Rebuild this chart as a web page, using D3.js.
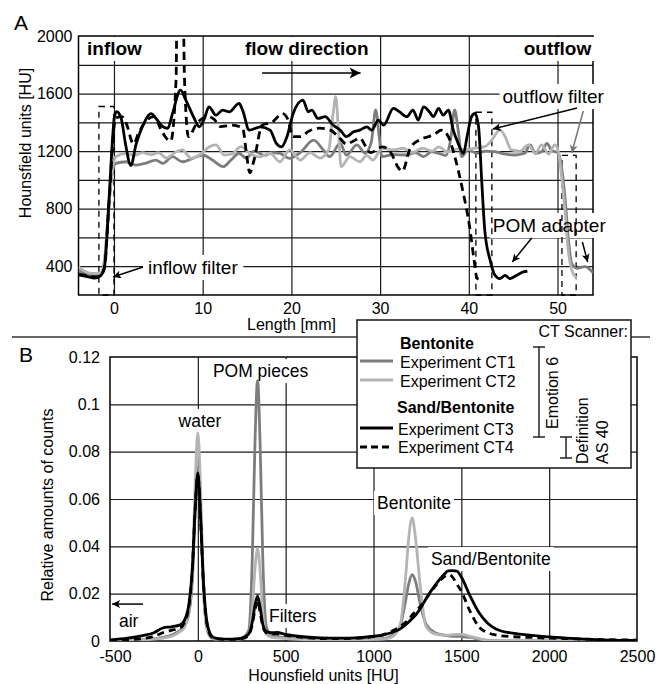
<!DOCTYPE html>
<html><head><meta charset="utf-8">
<script src="https://cdn.jsdelivr.net/npm/d3@7"></script>
<style>
body{margin:0;background:#fff;}
svg{display:block;font-family:"Liberation Sans",Arial,sans-serif;}
</style></head><body>
<svg id="c" width="656" height="684"></svg>
<script>
// ---------------- DATA ----------------
// Panel A: profiles along sample length [mm, HU]
const ct1A = [[-4,370],[-3,345],[-2,335],[-1.4,350],[-1,480],[-0.6,820],[-0.2,1050],[0.2,1115],[1.35,1126],[2.5,1103],[3.6,1117],[4.7,1138],[5.5,1115],[6.6,1161],[7.7,1126],[8.9,1150],[10.0,1173],[11.1,1138],[12.3,1092],[13.2,1138],[14.1,1185],[14.9,1150],[15.8,1200],[17.0,1170],[17.8,1190],[18.7,1185],[19.8,1150],[21.0,1190],[22.5,1277],[23.6,1208],[24.3,1161],[25.5,1254],[26.2,1173],[27.4,1243],[28.3,1185],[29.0,1260],[29.5,1486],[29.9,1300],[30.2,1161],[31.5,1175],[33.0,1173],[34.0,1190],[34.9,1161],[35.8,1195],[36.6,1185],[37.4,1170],[38.0,1300],[38.4,1486],[38.8,1347],[39.2,1161],[39.9,1208],[40.9,1185],[41.9,1200],[42.95,1196],[44.0,1180],[45.2,1173],[46.3,1185],[46.9,1243],[47.5,1185],[48.2,1195],[48.8,1254],[49.3,1208],[50.1,1185],[50.5,1069],[50.9,837],[51.2,605],[51.6,420],[52.2,386],[53.1,397],[54,355]];
const ct2A = [[-4,395],[-3.3,365],[-2.5,350],[-1.6,350],[-1.1,420],[-0.7,700],[-0.3,1000],[0.2,1161],[1.35,1185],[2.3,1170],[3.2,1190],[4.2,1175],[5.0,1190],[5.9,1152],[7.0,1196],[7.7,1208],[8.7,1150],[9.8,1180],[10.75,1231],[11.5,1243],[12.4,1173],[13.3,1180],[14.3,1231],[15.3,1185],[16.4,1160],[17.6,1185],[18.7,1126],[19.8,1208],[21.0,1138],[22.1,1190],[23.2,1152],[24.2,1208],[24.7,1463],[25.0,1578],[25.3,1347],[25.6,1092],[26.6,1161],[27.7,1126],[28.5,1170],[29.2,1138],[30.2,1220],[31.5,1208],[32.6,1220],[33.6,1190],[34.8,1220],[35.9,1200],[36.6,1230],[37.6,1195],[38.8,1215],[39.6,1208],[40.7,1220],[41.8,1231],[42.6,1277],[43.5,1347],[44.1,1300],[44.8,1208],[45.8,1200],[46.7,1243],[47.5,1185],[48.2,1243],[49.0,1180],[49.7,1243],[50.1,1196],[50.5,999],[50.9,744],[51.2,513],[51.6,374],[52.0,327],[52.2,320]];
const ct3A = [[-4,340],[-3,328],[-2.2,318],[-1.6,330],[-1.1,380],[-0.8,600],[-0.5,930],[-0.2,1250],[0.05,1440],[0.3,1475],[0.8,1430],[1.3,1250],[1.9,1100],[2.5,1250],[3.2,1370],[4.2,1460],[4.7,1430],[5.5,1370],[6.05,1358],[6.6,1462],[7.5,1624],[8.1,1555],[9.05,1427],[9.6,1369],[10.2,1427],[10.7,1508],[11.5,1450],[12.25,1485],[13.0,1473],[14.1,1532],[14.5,1485],[15.25,1346],[16.5,1369],[17.6,1346],[18.3,1254],[18.9,1230],[19.5,1300],[20.2,1462],[21.3,1555],[21.9,1473],[22.3,1485],[23.0,1427],[23.8,1439],[24.7,1381],[25.5,1346],[26.2,1300],[27.0,1334],[27.7,1346],[28.5,1369],[29.05,1346],[29.8,1416],[30.4,1381],[31.5,1497],[32.2,1473],[33.0,1439],[33.7,1485],[34.3,1416],[34.9,1508],[35.6,1470],[36.0,1439],[36.6,1497],[37.1,1450],[37.7,1485],[38.25,1346],[38.8,1254],[39.4,1184],[39.8,1300],[40.3,1439],[40.7,1462],[41.1,1369],[41.45,998],[41.8,650],[42.4,442],[42.95,337],[43.5,314],[44.1,337],[44.6,314],[45.4,337],[46.1,360],[46.6,365]];
const ct4A = [[-4,345],[-3,335],[-2,325],[-1.5,335],[-1.0,420],[-0.7,700],[-0.4,1000],[-0.1,1300],[0.2,1430],[0.9,1440],[1.4,1390],[2.2,1250],[2.8,1330],[3.5,1400],[4.5,1440],[5.3,1350],[5.9,1290],[6.4,1270],[7.0,1700],[7.1,2150],[7.8,2150],[7.95,1700],[8.4,1300],[9.3,1390],[10.6,1440],[11.3,1420],[12.0,1370],[13.3,1380],[14.5,1360],[15.0,1150],[15.3,1050],[15.8,1140],[16.7,1380],[17.8,1400],[19.0,1460],[19.6,1420],[20.2,1300],[21.0,1300],[22.0,1340],[23.2,1360],[24.4,1346],[25.3,1300],[26.2,1250],[27.0,1270],[27.7,1290],[28.9,1190],[30.3,1230],[31.3,1180],[32.0,1090],[32.5,1060],[33.4,1220],[34.5,1280],[35.4,1300],[36.2,1320],[36.9,1346],[37.7,1300],[38.4,1165],[39.3,930],[40.1,670],[40.6,440],[40.9,320],[41.1,310]];

// Panel B: histograms, shared HU categories
const hu = [-500,-400,-300,-250,-200,-150,-100,-75,-50,-30,-15,0,15,30,50,75,100,150,200,250,290,310,325,340,355,370,390,420,450,500,600,700,800,900,1000,1050,1100,1150,1185,1200,1220,1240,1265,1300,1350,1400,1425,1450,1475,1500,1550,1600,1650,1700,1800,1900,2000,2100,2200,2300,2400,2500];
const ct1B = [0.0002,0.0004,0.0007,0.001,0.0015,0.0025,0.0045,0.0065,0.012,0.027,0.056,0.073,0.055,0.025,0.006,0.0015,0.0009,0.0007,0.0007,0.0012,0.0045,0.035,0.083,0.110,0.082,0.034,0.006,0.0022,0.0018,0.0013,0.0008,0.0005,0.0005,0.0006,0.0008,0.001,0.002,0.006,0.018,0.024,0.028,0.025,0.016,0.007,0.0035,0.0025,0.0022,0.002,0.002,0.0019,0.0015,0.0008,0.0003,0.0001,0,0,0,0,0,0,0,0];
const ct2B = [0.0001,0.0002,0.0005,0.0008,0.0012,0.002,0.004,0.006,0.013,0.032,0.067,0.088,0.066,0.029,0.006,0.0013,0.0008,0.0006,0.0006,0.001,0.003,0.013,0.030,0.039,0.029,0.012,0.003,0.0015,0.0013,0.001,0.0006,0.0004,0.0004,0.0005,0.0007,0.0008,0.0015,0.006,0.029,0.043,0.052,0.043,0.024,0.006,0.003,0.0025,0.0025,0.0027,0.0028,0.0028,0.002,0.001,0.0003,0.0001,0,0,0,0,0,0,0,0];
const ct3B = [0.0005,0.0012,0.0025,0.0035,0.0055,0.006,0.0068,0.009,0.016,0.032,0.056,0.071,0.054,0.028,0.009,0.0025,0.0012,0.0008,0.0008,0.0012,0.003,0.008,0.015,0.019,0.014,0.007,0.004,0.0035,0.0036,0.0028,0.0018,0.0013,0.0012,0.0013,0.002,0.0025,0.0035,0.005,0.007,0.008,0.0095,0.011,0.0135,0.018,0.0235,0.028,0.0296,0.0297,0.0295,0.027,0.019,0.012,0.0075,0.005,0.0032,0.0024,0.0017,0.0012,0.0008,0.0005,0.0003,0.0002];
const ct4B = [0.0002,0.0005,0.0012,0.002,0.0035,0.0045,0.0055,0.008,0.015,0.032,0.056,0.070,0.053,0.027,0.008,0.002,0.001,0.0007,0.0007,0.001,0.0025,0.007,0.013,0.017,0.012,0.006,0.0035,0.003,0.003,0.0024,0.0015,0.001,0.001,0.0012,0.0018,0.0025,0.004,0.006,0.008,0.009,0.011,0.0125,0.0145,0.018,0.023,0.027,0.028,0.027,0.024,0.021,0.0125,0.006,0.0035,0.0025,0.0018,0.0015,0.0012,0.001,0.0008,0.0006,0.0005,0.0004];

const seriesNames = ["Experiment CT1","Experiment CT2","Experiment CT3","Experiment CT4"];
const groupNames = ["Bentonite","Sand/Bentonite"];

const xGridA=[0,10,20,30,40,50];
const xTicksA=[0,10,20,30,40,50];
const yGridA=[400,600,800,1000,1200,1400,1600,1800];
const yTicksA=[400,800,1200,1600,2000];
const xTicksB=[-500,0,500,1000,1500,2000,2500];
const xGridB=[0,500,1000,1500,2000];
const yTicksB=[0,0.02,0.04,0.06,0.08,0.1,0.12];
const yTickLabelsB=["0","0.02","0.04","0.06","0.08","0.1","0.12"];
const yGridB=[0.02,0.04,0.06,0.08,0.1];

// ---------------- STYLE / LAYOUT ----------------
const styles = [
  {color:"#7d7d7d", dash:null},
  {color:"#b4b4b4", dash:null},
  {color:"#000", dash:null},
  {color:"#000", dash:"8,5"}
];
const LW = 2.8;
const GRID = "#1a1a1a";
const plain = d => String(d);

const svg = d3.select("#c");
const defs = svg.append("defs");

const A = {x0:78.5, x1:593, y0:36, y1:295};
const B = {x0:110, x1:637, y0:357, y1:641};
const xA = d3.scaleLinear().domain([-4,54]).range([A.x0,A.x1]);
const yA = d3.scaleLinear().domain([200,2000]).range([A.y1,A.y0]);
const xB = d3.scaleLinear().domain([-500,2500]).range([B.x0,B.x1]);
const yB = d3.scaleLinear().domain([0,0.12]).range([B.y1,B.y0]);

function clip(id,P){defs.append("clipPath").attr("id",id).append("rect")
  .attr("x",P.x0).attr("y",P.y0).attr("width",P.x1-P.x0).attr("height",P.y1-P.y0);}
clip("clipA",A); clip("clipB",B);

function marker(id,color,len,wid){
  defs.append("marker").attr("id",id).attr("viewBox","0 0 10 10").attr("refX",10).attr("refY",5)
   .attr("markerWidth",len).attr("markerHeight",wid).attr("markerUnits","userSpaceOnUse").attr("orient","auto")
   .append("path").attr("d","M0,0 L10,5 L0,10 L2.5,5 z").attr("fill",color);
}
marker("ah","#000",11,8); marker("ahg","#777",11,8); marker("ahBig","#000",15,11);

function drawGrid(g,P,xs,ys,xS,yS){
  g.append("g").attr("transform",`translate(0,${P.y1})`)
    .call(d3.axisBottom(xS).tickValues(xs).tickSize(-(P.y1-P.y0)).tickFormat(""))
    .call(a=>a.select(".domain").remove())
    .selectAll("line").attr("stroke",GRID).attr("stroke-width",1.2);
  g.append("g").attr("transform",`translate(${P.x0},0)`)
    .call(d3.axisLeft(yS).tickValues(ys).tickSize(-(P.x1-P.x0)).tickFormat(""))
    .call(a=>a.select(".domain").remove())
    .selectAll("line").attr("stroke",GRID).attr("stroke-width",1.2);
  g.append("rect").attr("x",P.x0).attr("y",P.y0).attr("width",P.x1-P.x0).attr("height",P.y1-P.y0)
    .attr("fill","none").attr("stroke","#000").attr("stroke-width",1.5);
}
function styleAxisText(sel,size){
  sel.select(".domain").remove();
  sel.attr("font-family",null).attr("font-size",null);
  sel.selectAll("text").attr("fill","#000").style("font-size",size+"px");
}

function boxedLabel(textL,boxL,x,y,str,opt){
  const t = textL.append("text").attr("x",x).attr("y",y).text(str)
    .attr("text-anchor",opt.anchor||"start").style("font-size",opt.size+"px")
    .style("font-weight",opt.bold?"bold":"normal").attr("fill","#000");
  const b = t.node().getBBox();
  const px = opt.padX==null?3:opt.padX, py = opt.padY==null?2:opt.padY;
  let yTop = b.y-py; if(opt.minY!=null) yTop=Math.max(yTop,opt.minY);
  boxL.append("rect").attr("x",b.x-px).attr("y",yTop).attr("width",b.width+2*px)
    .attr("height",b.y+b.height+py-yTop).attr("fill","#fff");
  return t;
}

// ================= PANEL A =================
const gA = svg.append("g");
const gridA = gA.append("g"), boxA = gA.append("g"), filtA = gA.append("g"),
      curvA = gA.append("g").attr("clip-path","url(#clipA)"), textA = gA.append("g"), arrA = gA.append("g");
drawGrid(gridA,A,xGridA,yGridA,xA,yA);

gA.append("g").attr("transform",`translate(0,${A.y1})`)
  .call(d3.axisBottom(xA).tickValues(xTicksA).tickFormat(plain).tickSize(0).tickPadding(8)).call(s=>styleAxisText(s,16));
gA.append("g").attr("transform",`translate(${A.x0},0)`)
  .call(d3.axisLeft(yA).tickValues(yTicksA).tickFormat(plain).tickSize(0).tickPadding(6)).call(s=>styleAxisText(s,16));

// filter regions (dashed rectangles)
const filtersA = [[-1.7,0,1510],[40.8,42.6,1470],[50.5,52.1,1170]];
filtA.selectAll("rect").data(filtersA).join("rect")
  .attr("x",d=>xA(d[0])).attr("width",d=>xA(d[1])-xA(d[0]))
  .attr("y",d=>yA(d[2])).attr("height",d=>yA(200)-yA(d[2]))
  .attr("fill","none").attr("stroke","#000").attr("stroke-width",1.3).attr("stroke-dasharray","6,5");

const lineA = d3.line().x(d=>xA(d[0])).y(d=>yA(d[1])).curve(d3.curveMonotoneX);
[ct1A,ct2A,ct3A,ct4A].forEach((s,i)=>{
  curvA.append("path").attr("d",lineA(s)).attr("fill","none").attr("stroke",styles[i].color)
    .attr("stroke-width",LW).attr("stroke-linejoin","round").attr("stroke-dasharray",styles[i].dash);
});

const labelsA = [
  {t:"inflow", x:-3.04, y:1868, bold:true},
  {t:"flow direction", x:14.77, y:1868, bold:true},
  {t:"outflow", x:53.8, y:1868, bold:true, anchor:"end"},
  {t:"outflow filter", x:43.8, y:1534},
  {t:"inflow filter", x:3.83, y:346, padX:5},
  {t:"POM adapter", x:42.7, y:638}
];
labelsA.forEach(l=>boxedLabel(textA,boxA,xA(l.x),yA(l.y),l.t,{size:19,bold:l.bold,anchor:l.anchor,minY:A.y0+1,padX:l.padX}));

const arrowsA = [
  {f:[16.7,1743],t:[27.8,1743],m:"ahBig",c:"#000"},
  {f:[3.27,395],t:[-0.11,325],m:"ah",c:"#000"},
  {f:[52.2,1500],t:[42.7,1354],m:"ah",c:"#000"},
  {f:[52.9,1479],t:[51.6,1187],m:"ahg",c:"#777"},
  {f:[47.1,596],t:[44.9,429],m:"ah",c:"#000"},
  {f:[52.8,568],t:[53.4,429],m:"ah",c:"#000"}
];
arrowsA.forEach(a=>arrA.append("line").attr("x1",xA(a.f[0])).attr("y1",yA(a.f[1]))
  .attr("x2",xA(a.t[0])).attr("y2",yA(a.t[1])).attr("stroke",a.c).attr("stroke-width",1.5)
  .attr("marker-end",`url(#${a.m})`));

gA.append("text").attr("x",14).attr("y",30).text("A").style("font-size","21px");
gA.append("text").attr("transform",`translate(31,143) rotate(-90)`).attr("text-anchor","middle")
  .text("Hounsfield units [HU]").style("font-size","16px");
gA.append("text").attr("x",291.5).attr("y",330).attr("text-anchor","middle").text("Length [mm]").style("font-size","16px");

// separator
svg.append("line").attr("x1",12).attr("x2",650).attr("y1",337).attr("y2",337).attr("stroke","#333").attr("stroke-width",1.6);

// ================= PANEL B =================
const gB = svg.append("g");
const gridB = gB.append("g"), boxB = gB.append("g"),
      curvB = gB.append("g").attr("clip-path","url(#clipB)"), textB = gB.append("g"), arrB = gB.append("g");
drawGrid(gridB,B,xGridB,yGridB,xB,yB);

const axB = gB.append("g").attr("transform",`translate(0,${B.y1})`)
  .call(d3.axisBottom(xB).tickValues(xTicksB).tickFormat(plain).tickSize(0).tickPadding(10)).call(s=>styleAxisText(s,16));
axB.selectAll("text").filter(d=>d===-500).attr("text-anchor","start").attr("x",-11);
gB.append("g").attr("transform",`translate(${B.x0},0)`)
  .call(d3.axisLeft(yB).tickValues(yTicksB).tickSize(0).tickPadding(10).tickFormat((d,i)=>yTickLabelsB[i]))
  .call(s=>styleAxisText(s,16));

const lineB = d3.line().x((d,i)=>xB(hu[i])).y(d=>yB(d)).curve(d3.curveMonotoneX);
[ct1B,ct2B,ct3B,ct4B].forEach((s,i)=>{
  curvB.append("path").attr("d",lineB(s)).attr("fill","none").attr("stroke",styles[i].color)
    .attr("stroke-width",LW).attr("stroke-linejoin","round").attr("stroke-dasharray",styles[i].dash?"7,5":null);
});

const labelsB = [
  {t:"POM pieces", x:357, y:0.1115, anchor:"middle"},
  {t:"water", x:12, y:0.0904, anchor:"middle"},
  {t:"Filters", x:405, y:0.008},
  {t:"air", x:-449, y:0.0059},
  {t:"Bentonite", x:1020, y:0.0558},
  {t:"Sand/Bentonite", x:1327, y:0.0321}
];
labelsB.forEach(l=>boxedLabel(textB,boxB,xB(l.x),yB(l.y),l.t,{size:17.5,anchor:l.anchor}));
arrB.append("line").attr("x1",xB(-312)).attr("y1",yB(0.0156)).attr("x2",xB(-488)).attr("y2",yB(0.0156))
  .attr("stroke","#000").attr("stroke-width",1.5).attr("marker-end","url(#ah)");

gB.append("text").attr("x",19).attr("y",362).text("B").style("font-size","21px");
gB.append("text").attr("transform",`translate(53,505) rotate(-90)`).attr("text-anchor","middle")
  .text("Relative amounts of counts").style("font-size","16px");
gB.append("text").attr("x",323.5).attr("y",681).attr("text-anchor","middle").text("Hounsfield units [HU]").style("font-size","16px");

// ---------------- LEGEND ----------------
const lg = svg.append("g");
lg.append("rect").attr("x",357).attr("y",320).attr("width",274).attr("height",148)
  .attr("fill","#fff").attr("stroke","#222").attr("stroke-width",1.6);
lg.append("text").attr("x",628).attr("y",337).attr("text-anchor","end").text("CT Scanner:").style("font-size","16px");
const headY=[349,413], headX=[400,397];
groupNames.forEach((g,i)=>lg.append("text").attr("x",headX[i]).attr("y",headY[i]).text(g)
  .style("font-size","16px").style("font-weight","bold"));
const itemLineY=[361,380,428,447], itemTextY=[368,387,435,453], itemTextX=[400,400,398,398];
seriesNames.forEach((n,i)=>{
  lg.append("line").attr("x1",360).attr("x2",393).attr("y1",itemLineY[i]).attr("y2",itemLineY[i])
    .attr("stroke",styles[i].color).attr("stroke-width",LW).attr("stroke-dasharray",styles[i].dash?"7,4":null);
  lg.append("text").attr("x",itemTextX[i]).attr("y",itemTextY[i]).text(n).style("font-size","16px");
});
function bracket(x,ya,yb){
  lg.append("line").attr("x1",x).attr("x2",x).attr("y1",ya).attr("y2",yb).attr("stroke","#222").attr("stroke-width",1.5);
  [ya,yb].forEach(y=>lg.append("line").attr("x1",x-6).attr("x2",x+6).attr("y1",y).attr("y2",y).attr("stroke","#222").attr("stroke-width",1.5));
}
bracket(539,347,437); bracket(566,437,458);
lg.append("text").attr("transform","translate(558,429) rotate(-90)").text("Emotion 6").style("font-size","16px");
lg.append("text").attr("transform","translate(588,464) rotate(-90)").text("Definition").style("font-size","16px");
lg.append("text").attr("transform","translate(608,464) rotate(-90)").text("AS 40").style("font-size","16px");
</script></body></html>
